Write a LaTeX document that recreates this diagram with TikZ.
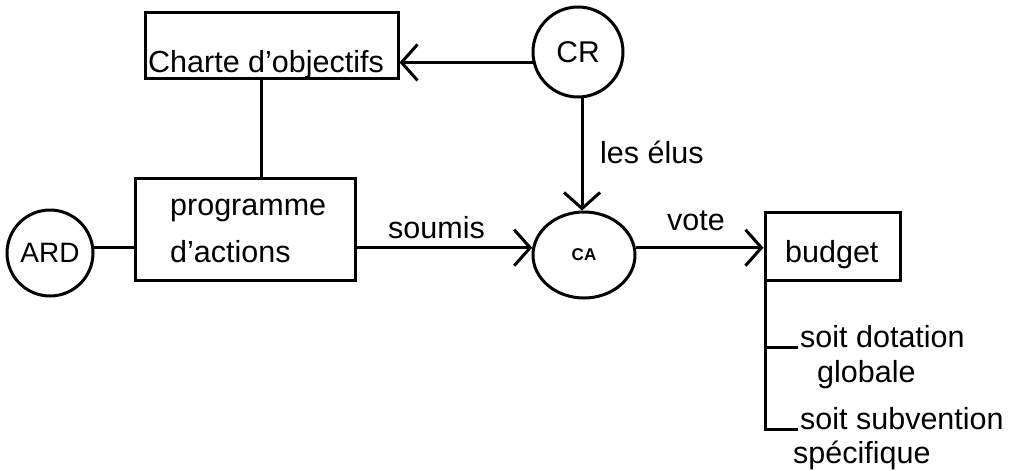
\documentclass[tikz,border=0pt]{standalone}
\usepackage{fontspec}
\setmainfont{Liberation Sans}
\usetikzlibrary{arrows.meta,calc,shapes.geometric}
\begin{document}
\begin{tikzpicture}[x=1pt,y=-1pt,
  every node/.style={font=\fontsize{30.5}{30.5}\selectfont},
  ln/.style={line width=3pt},
  arr/.style={ln,-{Straight Barb[length=16pt,width=36pt,line width=3pt]}},
  box/.style={draw,ln,rectangle,inner sep=0pt},
  circ/.style={draw,ln,circle,inner sep=0pt},
  txt/.style={anchor=base west,inner sep=0pt}]
\useasboundingbox (0,0) rectangle (1010,471);
% boxes and circles
\node[box,minimum width=253pt,minimum height=66pt] (charte) at (271.5,45) {};
\node[txt] (chartet) at (148,72) {Charte d'objectifs};
\node[circ,minimum size=90pt,font=\fontsize{30}{30}\selectfont] (CR) at (578,52) {CR};
\node[box,minimum width=220pt,minimum height=102pt] (prog) at (245,229) {};
\node[txt] (progt1) at (170,215) {programme};
\node[txt] (progt2) at (170,262) {d'actions};
\node[circ,minimum size=86pt,font=\fontsize{28}{28}\selectfont] (ARD) at (50,253) {ARD};
\node[draw,ln,ellipse,inner sep=0pt,minimum width=102pt,minimum height=86pt,font=\bfseries\fontsize{17}{17}\selectfont] (CA) at (584,255) {CA};
\node[box,minimum width=135pt,minimum height=68pt] (budget) at (832.5,246) {};
\node[txt] (budgett) at (785,262) {budget};
% connectors
\draw[arr] (CR.193) -- (CR.193 -| charte.east);
\coordinate (cs) at ($(charte.south west)!0.4625!(charte.south east)$);
\draw[ln] (cs) -- (cs |- prog.north);
\draw[ln] (ARD.7) -- (ARD.7 -| prog.west);
\draw[arr] (prog.east |- CA.172) -- (CA.172);
\draw[arr] (CA.8) -- (CA.8 -| budget.west);
\draw[arr] (CR.-85) -- (CR.-85 |- CA.north);
\coordinate (br1) at (798,347);
\coordinate (br2) at (798,429);
\draw[ln] ([xshift=2pt]budget.south west) |- (br2);
\draw[ln] ([xshift=2pt]budget.south west |- br1) -- (br1);
% labels
\node[txt] (soumis) at (388,238) {soumis};
\node[txt] (vote) at (667,230) {vote};
\node[txt] (elus) at (600,163) {les élus};
\node[txt] (dot1) at (800,347) {soit dotation};
\node[txt] (dot2) at (817,382) {globale};
\node[txt] (sub1) at (800,429) {soit subvention};
\node[txt] (sub2) at (793,463) {spécifique};
\end{tikzpicture}
\end{document}
